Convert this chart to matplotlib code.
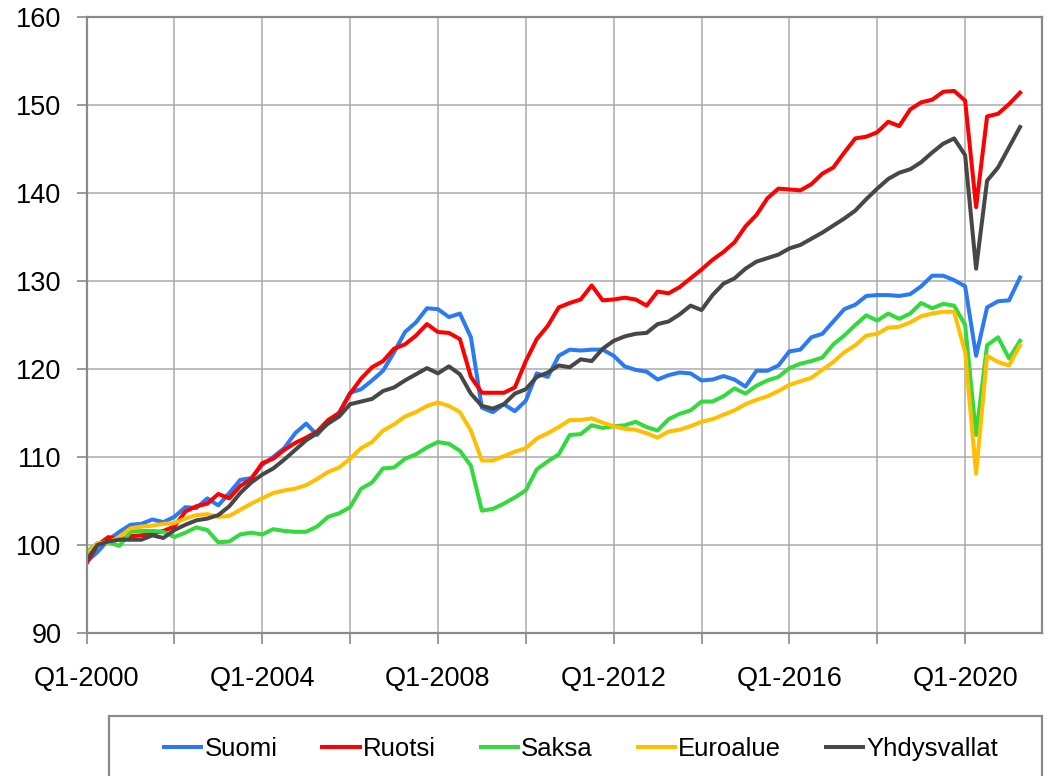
import matplotlib

matplotlib.use("Agg")
import matplotlib.pyplot as plt
from matplotlib.patches import Rectangle

plt.rcParams["font.family"] = ["Liberation Sans", "DejaVu Sans"]

# quarters Q1-2000 .. Q2-2021
quarters = [f"Q{q}-{y}" for y in range(2000, 2022) for q in range(1, 5)][:86]

suomi = [
    98.1, 99.2, 100.6, 101.5, 102.3, 102.4, 102.9, 102.6, 103.2, 104.3,
    104.2, 105.3, 104.5, 105.9, 107.4, 107.6, 109.1, 110.0, 111.0, 112.7,
    113.8, 112.5, 114.0, 115.0, 117.3, 117.7, 118.7, 119.8, 121.9, 124.2,
    125.3, 126.9, 126.8, 125.9, 126.3, 123.6, 115.6, 115.1, 116.0, 115.2,
    116.4, 119.5, 119.1, 121.5, 122.2, 122.1, 122.2, 122.2, 121.5, 120.3,
    119.9, 119.7, 118.8, 119.3, 119.6, 119.5, 118.7, 118.8, 119.2, 118.8,
    118.0, 119.8, 119.8, 120.4, 122.0, 122.2, 123.6, 124.0, 125.4, 126.8,
    127.3, 128.3, 128.4, 128.4, 128.3, 128.5, 129.4, 130.6, 130.6, 130.1,
    129.4, 121.5, 127.0, 127.7, 127.8, 130.4,
]
ruotsi = [
    97.9, 100.0, 100.9, 100.6, 101.0, 101.1, 101.3, 101.6, 102.1, 103.8,
    104.4, 104.7, 105.8, 105.3, 106.7, 107.5, 109.3, 109.8, 110.8, 111.6,
    112.2, 112.9, 114.2, 115.0, 117.2, 118.9, 120.2, 120.9, 122.3, 122.8,
    123.8, 125.1, 124.2, 124.1, 123.4, 119.1, 117.3, 117.3, 117.3, 117.9,
    120.9, 123.4, 124.9, 127.0, 127.5, 127.9, 129.5, 127.8, 127.9, 128.1,
    127.9, 127.2, 128.8, 128.6, 129.3, 130.3, 131.3, 132.4, 133.3, 134.4,
    136.2, 137.5, 139.4, 140.5, 140.4, 140.3, 141.0, 142.2, 142.9, 144.6,
    146.2, 146.4, 146.9, 148.1, 147.6, 149.5, 150.3, 150.6, 151.5, 151.6,
    150.5, 138.4, 148.7, 149.0, 150.1, 151.4,
]
saksa = [
    99.2, 100.2, 100.3, 99.9, 101.5, 101.6, 101.6, 101.5, 100.9, 101.4,
    102.0, 101.7, 100.3, 100.4, 101.2, 101.4, 101.2, 101.8, 101.6, 101.5,
    101.5, 102.1, 103.2, 103.6, 104.3, 106.4, 107.1, 108.7, 108.8, 109.8,
    110.3, 111.1, 111.7, 111.5, 110.7, 109.0, 103.9, 104.1, 104.7, 105.4,
    106.2, 108.6, 109.5, 110.3, 112.5, 112.6, 113.6, 113.3, 113.5, 113.6,
    114.0, 113.4, 113.0, 114.3, 114.9, 115.3, 116.3, 116.3, 116.9, 117.8,
    117.2, 118.1, 118.7, 119.1, 120.1, 120.6, 120.9, 121.3, 122.8, 123.8,
    125.0, 126.1, 125.5, 126.3, 125.7, 126.3, 127.5, 126.9, 127.4, 127.2,
    125.0, 112.5, 122.7, 123.6, 121.2, 123.2,
]
euroalue = [
    99.0, 100.2, 100.3, 100.9, 101.9, 102.1, 102.2, 102.4, 102.5, 103.0,
    103.4, 103.5, 103.2, 103.3, 104.0, 104.7, 105.3, 105.9, 106.2, 106.4,
    106.8, 107.5, 108.3, 108.8, 109.8, 111.0, 111.7, 113.0, 113.7, 114.6,
    115.1, 115.8, 116.2, 115.8, 115.1, 113.0, 109.6, 109.6, 110.1, 110.6,
    111.0, 112.1, 112.7, 113.4, 114.2, 114.2, 114.4, 113.9, 113.5, 113.2,
    113.1, 112.7, 112.2, 112.9, 113.1, 113.5, 114.0, 114.3, 114.8, 115.3,
    116.0, 116.5, 116.9, 117.5, 118.2, 118.6, 119.0, 119.9, 120.8, 121.9,
    122.7, 123.8, 124.0, 124.7, 124.8, 125.3, 126.0, 126.3, 126.5, 126.5,
    121.9, 108.1, 121.5, 120.8, 120.4, 122.7,
]
yhdysvallat = [
    98.3, 100.0, 100.4, 100.6, 100.6, 100.6, 101.1, 100.8, 101.7, 102.3,
    102.8, 103.0, 103.4, 104.4, 105.9, 107.1, 108.0, 108.7, 109.7, 110.8,
    111.9, 112.7, 113.8, 114.6, 116.0, 116.3, 116.6, 117.5, 117.9, 118.7,
    119.4, 120.1, 119.5, 120.3, 119.4, 117.2, 115.8, 115.5, 116.0, 117.2,
    117.7, 119.1, 119.6, 120.4, 120.2, 121.1, 120.9, 122.3, 123.2, 123.7,
    124.0, 124.1, 125.1, 125.4, 126.2, 127.2, 126.7, 128.4, 129.7, 130.3,
    131.4, 132.2, 132.6, 133.0, 133.7, 134.1, 134.8, 135.5, 136.3, 137.1,
    138.0, 139.3, 140.5, 141.6, 142.3, 142.7, 143.5, 144.6, 145.6, 146.2,
    144.3, 131.4, 141.4, 142.9, 145.2, 147.5,
]

series = [
    ("Suomi", suomi, "#2A7BF2"),
    ("Ruotsi", ruotsi, "#FF0000"),
    ("Saksa", saksa, "#33D93D"),
    ("Euroalue", euroalue, "#FFBF00"),
    ("Yhdysvallat", yhdysvallat, "#474747"),
]

fig = plt.figure(figsize=(10.56, 7.76), dpi=100)
ax = fig.add_axes([86.5 / 1056, 143 / 776, 955.5 / 1056, 616 / 776])

x = list(range(len(quarters)))
handles = []
for name, vals, col in series:
    (ln,) = ax.plot(x, vals, color=col, linewidth=2.9, solid_joinstyle="round", label=name)
    handles.append(ln)

ax.set_xlim(0, 87)
ax.set_ylim(90, 160)
ax.set_yticks(range(90, 161, 10))
xt = list(range(0, 87, 8))
ax.set_xticks(xt)
ax.set_xticklabels([quarters[i] if i % 16 == 0 else "" for i in xt])

ax.grid(True, color="#ABABAB", linewidth=1.1)
ax.set_axisbelow(True)
for s in ax.spines.values():
    s.set_color("#8A8A8A")
    s.set_linewidth(1.6)
ax.tick_params(axis="y", labelsize=19.5, length=7, width=1.2, color="#8A8A8A", pad=11)
ax.tick_params(axis="x", labelsize=19.5, length=8, width=1.2, color="#8A8A8A", pad=16)

# legend box runs off the bottom edge of the picture
fig.patches.append(Rectangle((109 / 1056, -0.05), 933 / 1056, 0.05 + 60 / 776,
                             transform=fig.transFigure, fill=False,
                             edgecolor="#8A8A8A", linewidth=1.6))
fig.legend(handles, [s[0] for s in series], loc="center",
           bbox_to_anchor=(581 / 1056, 27 / 776), ncol=5, frameon=False,
           fontsize=18.5, handlelength=1.45, handletextpad=0.12, columnspacing=1.75)

fig.savefig("out.png", dpi=100)
